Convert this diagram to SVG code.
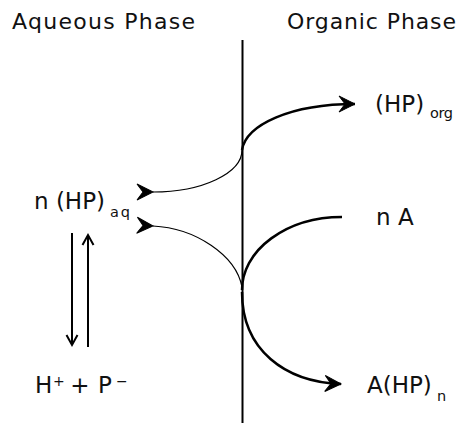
<svg xmlns="http://www.w3.org/2000/svg" width="462" height="423" viewBox="0 0 462 423">
<style>
text{font-family:"DejaVu Sans","Liberation Sans",sans-serif;font-size:23px;fill:#111}
.hdr{font-size:22px}
.sub{font-size:14.5px}
.sup{font-size:14px}
.thick{fill:none;stroke:#000;stroke-width:2.5}
.thin{fill:none;stroke:#000;stroke-width:1.2}
.eq{fill:none;stroke:#000;stroke-width:2}
</style>
<defs>
<marker id="barb" markerUnits="userSpaceOnUse" markerWidth="20" markerHeight="20" viewBox="-17 -10 20 20" refX="0" refY="0" orient="auto">
<path d="M0,0 L-16,-8 L-10,0 L-16,8 Z" fill="#000" stroke="#000" stroke-width="1" stroke-linejoin="miter"/>
</marker>
<marker id="open" markerUnits="userSpaceOnUse" markerWidth="16" markerHeight="16" viewBox="-12 -8 14 16" refX="0" refY="0" orient="auto">
<path d="M-10,-5.5 L0,0 L-10,5.5" fill="none" stroke="#000" stroke-width="2"/>
</marker>
</defs>
<g id="labels">
<g id="aqueous-phase"><text class="hdr" x="12" y="29" textLength="183" lengthAdjust="spacing">Aqueous Phase</text></g>
<g id="organic-phase"><text class="hdr" x="287" y="29" textLength="169" lengthAdjust="spacing">Organic Phase</text></g>
</g>
<g id="interface"><line x1="242.5" y1="40" x2="242.5" y2="423" stroke="#000" stroke-width="2"/></g>
<g id="node-hp-aq"><text x="34" y="209">n (HP)</text><text class="sub" x="110" y="217" textLength="20" lengthAdjust="spacing">aq</text></g>
<g id="node-hp-org"><text x="375" y="112">(HP)</text><text class="sub" x="430" y="118" textLength="23" lengthAdjust="spacing">org</text></g>
<g id="node-nA"><text x="376" y="225">n A</text></g>
<g id="node-AHPn"><text x="367" y="393">A(HP)</text><text class="sub" x="437" y="401">n</text></g>
<g id="node-ions"><text x="35" y="393">H</text><text class="sup" x="53" y="386">+</text><text x="80" y="393" text-anchor="middle">+</text><text x="98" y="393">P</text><text class="sup" x="116" y="386">−</text></g>
<g id="connectors">
<path class="thin" d="M153,192 A89,42 0 0 0 242,150" marker-start="url(#barb)"/>
<path class="thin" d="M153,226 C195,228 236,255 242,287" marker-start="url(#barb)"/>
<path class="thick" d="M242,150 C246,125 290,104 355,104" marker-end="url(#barb)"/>
<path class="thick" d="M342,217 A100,73 0 0 0 242,290"/>
<path class="thick" d="M242,292 C242,350 285,382 341,384" marker-end="url(#barb)"/>
<line class="eq" x1="72" y1="233" x2="72" y2="345" marker-end="url(#open)"/>
<line class="eq" x1="88" y1="347" x2="88" y2="235" marker-end="url(#open)"/>
</g>
</svg>
